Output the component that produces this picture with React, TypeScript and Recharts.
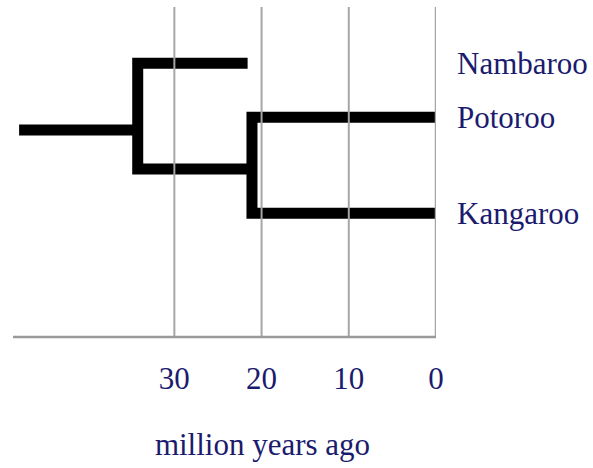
import { LineChart, Line, XAxis, YAxis, Label } from "recharts";

// ages in million years, rows are the vertical lanes of the tree
const tickAges = [30, 20, 10, 0];
const ageDomain = [0, 48.5];
const rowDomain = [0.25, 4.65];

const species = ["Nambaroo", "Potoroo", "Kangaroo"];
const speciesRows = [1, 1.72, 3];

const rootBranch = [
  { age: 47.8, row: 1.89 },
  { age: 34.2, row: 1.89 },
];
const cladeA = [
  { age: 21.6, row: 1 },
  { age: 34.2, row: 1 },
  { age: 34.2, row: 2.41 },
  { age: 21.1, row: 2.41 },
];
const cladeB = [
  { age: 0, row: 1.72 },
  { age: 21.1, row: 1.72 },
  { age: 21.1, row: 3 },
  { age: 0, row: 3 },
];

const gridLines = tickAges.map((a) => [
  { age: a, row: rowDomain[0] },
  { age: a, row: rowDomain[1] },
]);

const FONT = "'Liberation Serif', 'Times New Roman', serif";
const NAVY = "#1b1b6e";

export default function App() {
  const speciesName = (v: number) => species[speciesRows.indexOf(v)] ?? "";
  return (
    <div style={{ position: "absolute", left: 0, top: 0, background: "#fff" }}>
      <LineChart width={593} height={468} margin={{ top: 7, right: 7, left: 13, bottom: 0 }}>
        <XAxis
          dataKey="age"
          type="number"
          domain={ageDomain}
          reversed
          ticks={tickAges}
          allowDataOverflow
          height={131}
          tickLine={false}
          tickSize={0}
          tickMargin={30}
          axisLine={{ stroke: "#9a9a9a", strokeWidth: 2.5 }}
          tick={{ fill: NAVY, fontSize: 31, fontFamily: FONT }}
        >
          <Label
            value="million years ago"
            position="insideBottom"
            offset={13}
            dx={38}
            fill={NAVY}
            fontSize={31}
            fontFamily={FONT}
          />
        </XAxis>
        <YAxis
          dataKey="row"
          type="number"
          orientation="right"
          domain={rowDomain}
          reversed
          ticks={speciesRows}
          allowDataOverflow
          width={150}
          axisLine={false}
          tickLine={false}
          tickMargin={15}
          tickFormatter={speciesName}
          tick={{ fill: NAVY, fontSize: 31, fontFamily: FONT, textAnchor: "start" }}
        />
        <Line data={rootBranch} dataKey="row" stroke="#000" strokeWidth={11} strokeLinecap="butt" strokeLinejoin="miter" dot={false} activeDot={false} isAnimationActive={false} />
        <Line data={cladeA} dataKey="row" stroke="#000" strokeWidth={11} strokeLinecap="butt" strokeLinejoin="miter" dot={false} activeDot={false} isAnimationActive={false} />
        <Line data={cladeB} dataKey="row" stroke="#000" strokeWidth={11} strokeLinecap="butt" strokeLinejoin="miter" dot={false} activeDot={false} isAnimationActive={false} />
        {gridLines.map((g, i) => (
          <Line
            key={i}
            data={g}
            dataKey="row"
            stroke="#a6a6a6"
            strokeWidth={i === gridLines.length - 1 ? 2.5 : 2}
            dot={false}
            activeDot={false}
            isAnimationActive={false}
          />
        ))}
      </LineChart>
    </div>
  );
}
